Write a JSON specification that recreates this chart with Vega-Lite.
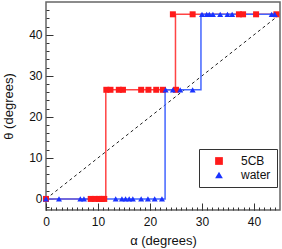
{
  "$schema": "https://vega.github.io/schema/vega-lite/v6.json",
  "width": 234,
  "height": 208,
  "autosize": "none",
  "padding": {"left": 46, "top": 2, "right": 2, "bottom": 39},
  "background": "white",
  "config": {
    "view": {"stroke": "#666666", "strokeWidth": 1.5},
    "font": "Liberation Sans",
    "axis": {"grid": false, "domain": false, "labelFont": "Liberation Sans", "titleFont": "Liberation Sans", "labelFontSize": 12, "titleFontSize": 13, "titleFontWeight": "normal", "labelColor": "#111111", "titleColor": "#111111", "tickColor": "#333333", "labelOverlap": false}
  },
  "resolve": {"axis": {"x": "independent", "y": "independent"}},
  "datasets": {
    "pts": [
      {"a": 0, "t": 0, "s": "5CB"},
      {"a": 8.6, "t": 0, "s": "5CB"},
      {"a": 9.4, "t": 0, "s": "5CB"},
      {"a": 10.2, "t": 0, "s": "5CB"},
      {"a": 10.7, "t": 0, "s": "5CB"},
      {"a": 11.2, "t": 0, "s": "5CB"},
      {"a": 11.6, "t": 26.6, "s": "5CB"},
      {"a": 12.4, "t": 26.6, "s": "5CB"},
      {"a": 14.0, "t": 26.6, "s": "5CB"},
      {"a": 14.8, "t": 26.6, "s": "5CB"},
      {"a": 18.3, "t": 26.6, "s": "5CB"},
      {"a": 19.7, "t": 26.6, "s": "5CB"},
      {"a": 21.2, "t": 26.6, "s": "5CB"},
      {"a": 22.5, "t": 26.6, "s": "5CB"},
      {"a": 25.0, "t": 26.6, "s": "5CB"},
      {"a": 24.4, "t": 45, "s": "5CB"},
      {"a": 28.2, "t": 45, "s": "5CB"},
      {"a": 37.1, "t": 45, "s": "5CB"},
      {"a": 37.9, "t": 45, "s": "5CB"},
      {"a": 40.4, "t": 45, "s": "5CB"},
      {"a": 44.3, "t": 45, "s": "5CB"},
      {"a": 0, "t": 0, "s": "water"},
      {"a": 2.5, "t": 0, "s": "water"},
      {"a": 6.6, "t": 0, "s": "water"},
      {"a": 7.3, "t": 0, "s": "water"},
      {"a": 13.4, "t": 0, "s": "water"},
      {"a": 14.6, "t": 0, "s": "water"},
      {"a": 15.3, "t": 0, "s": "water"},
      {"a": 16.0, "t": 0, "s": "water"},
      {"a": 16.7, "t": 0, "s": "water"},
      {"a": 18.3, "t": 0, "s": "water"},
      {"a": 19.6, "t": 0, "s": "water"},
      {"a": 20.9, "t": 0, "s": "water"},
      {"a": 22.3, "t": 0, "s": "water"},
      {"a": 23.0, "t": 26.6, "s": "water"},
      {"a": 24.4, "t": 26.6, "s": "water"},
      {"a": 25.8, "t": 26.6, "s": "water"},
      {"a": 28.2, "t": 26.6, "s": "water"},
      {"a": 30.0, "t": 45, "s": "water"},
      {"a": 30.9, "t": 45, "s": "water"},
      {"a": 31.4, "t": 45, "s": "water"},
      {"a": 32.1, "t": 45, "s": "water"},
      {"a": 33.5, "t": 45, "s": "water"},
      {"a": 34.9, "t": 45, "s": "water"},
      {"a": 35.8, "t": 45, "s": "water"},
      {"a": 43.4, "t": 45, "s": "water"},
      {"a": 44.0, "t": 45, "s": "water"}
    ],
    "steps5CB": [
      {"a": 0, "t": 0, "o": 0},
      {"a": 11.5, "t": 0, "o": 1},
      {"a": 11.5, "t": 26.6, "o": 2},
      {"a": 24.9, "t": 26.6, "o": 3},
      {"a": 24.9, "t": 45, "o": 4},
      {"a": 45, "t": 45, "o": 5}
    ],
    "stepsWater": [
      {"a": 0, "t": 0, "o": 0},
      {"a": 22.9, "t": 0, "o": 1},
      {"a": 22.9, "t": 26.6, "o": 2},
      {"a": 29.8, "t": 26.6, "o": 3},
      {"a": 29.8, "t": 45, "o": 4},
      {"a": 45, "t": 45, "o": 5}
    ],
    "diag": [
      {"a": 0, "t": 0},
      {"a": 45, "t": 45}
    ]
  },
  "layer": [
    {
      "data": {"name": "diag"},
      "mark": {"type": "line", "color": "#222222", "strokeWidth": 1, "strokeDash": [3, 3], "clip": true},
      "encoding": {
        "x": {"field": "a", "type": "quantitative", "scale": {"domain": [0, 45], "nice": false, "zero": false},
          "axis": {"orient": "bottom", "title": null, "labels": false, "offset": -3, "tickSize": 3,
            "values": [0,1,2,3,4,5,6,7,8,9,10,11,12,13,14,15,16,17,18,19,20,21,22,23,24,25,26,27,28,29,30,31,32,33,34,35,36,37,38,39,40,41,42,43,44]}},
        "y": {"field": "t", "type": "quantitative", "scale": {"domain": [-2.7, 48], "nice": false, "zero": false},
          "axis": {"orient": "left", "title": null, "labels": false, "offset": -3, "tickSize": 3,
            "values": [-2,0,2,4,6,8,10,12,14,16,18,20,22,24,26,28,30,32,34,36,38,40,42,44,46]}}
      }
    },
    {
      "data": {"name": "steps5CB"},
      "mark": {"type": "line", "strokeWidth": 1.5, "color": "#ff4444"},
      "encoding": {
        "x": {"field": "a", "type": "quantitative", "axis": null},
        "y": {"field": "t", "type": "quantitative", "axis": null},
        "order": {"field": "o", "type": "quantitative"}
      }
    },
    {
      "data": {"name": "stepsWater"},
      "mark": {"type": "line", "strokeWidth": 1.5, "color": "#4466ff"},
      "encoding": {
        "x": {"field": "a", "type": "quantitative", "axis": null},
        "y": {"field": "t", "type": "quantitative", "axis": null},
        "order": {"field": "o", "type": "quantitative"}
      }
    },
    {
      "data": {"name": "pts"},
      "mark": {"type": "point", "filled": true, "opacity": 1, "size": 36},
      "encoding": {
        "x": {"field": "a", "type": "quantitative",
          "axis": {"orient": "bottom", "title": "α (degrees)", "values": [0, 10, 20, 30, 40], "offset": -7, "tickSize": 7, "labelPadding": 6, "titlePadding": 7, "labelFlush": false}},
        "y": {"field": "t", "type": "quantitative",
          "axis": {"orient": "left", "title": "θ (degrees)", "values": [0, 10, 20, 30, 40], "offset": -7, "tickSize": 7, "labelPadding": 4, "titlePadding": 13, "labelFlush": false}},
        "color": {"field": "s", "type": "nominal", "scale": {"domain": ["5CB", "water"], "range": ["#ff1a1a", "#1a33ff"]},
          "legend": {"title": null, "orient": "none", "legendX": 153, "legendY": 147, "strokeColor": "#333333", "fillColor": "white", "padding": 6, "labelFontSize": 12, "labelOffset": 16, "symbolOffset": 8, "symbolSize": 60, "rowPadding": 2, "labelColor": "#111111"}},
        "shape": {"field": "s", "type": "nominal", "scale": {"domain": ["5CB", "water"], "range": ["square", "triangle-up"]},
          "legend": {"title": null, "orient": "none", "legendX": 153, "legendY": 147, "strokeColor": "#333333", "fillColor": "white", "padding": 6, "labelFontSize": 12, "labelOffset": 16, "symbolOffset": 8, "symbolSize": 60, "rowPadding": 2, "labelColor": "#111111"}}
      }
    }
  ]
}
